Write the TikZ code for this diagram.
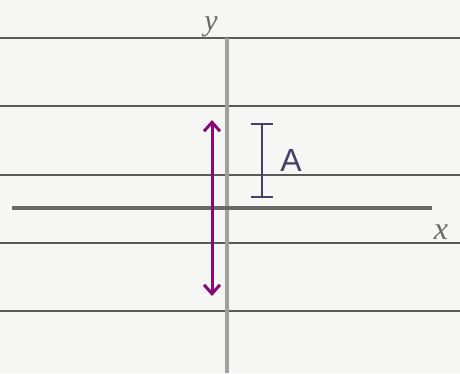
\documentclass[tikz,border=0pt]{standalone}
\usepackage{fontspec}
\setmainfont{Liberation Sans}
\newfontfamily\handfont{Liberation Serif}
\usetikzlibrary{arrows.meta}
\definecolor{paper}{RGB}{246,246,244}
\definecolor{rule}{RGB}{90,90,90}
\definecolor{axisH}{RGB}{105,105,105}
\definecolor{axisV}{RGB}{160,160,160}
\definecolor{purp}{RGB}{135,10,125}
\definecolor{ink}{RGB}{65,65,105}
\tikzset{
  ruleline/.style={rule, line width=1.3pt},
  axisline/.style={line width=4.5pt},
  vecarrow/.style={purp, line width=3pt, {Straight Barb[length=9pt,width=16pt]}-{Straight Barb[length=9pt,width=16pt]}},
  scalebar/.style={ink, line width=2.6pt},
  lbl/.style={inner sep=0pt}
}
\begin{document}
\begin{tikzpicture}[x=1pt,y=-1pt]
\fill[paper] (0,0) rectangle (460,373);
\useasboundingbox (0,0) rectangle (460,373);
% ruled lines
\foreach \yy in {38,106,175,243,311} \draw[ruleline] (0,\yy) -- (460,\yy);
% axes
\coordinate (xs) at (12,208);
\coordinate (xe) at (432,208);
\coordinate (ys) at (227,38);
\coordinate (ye) at (227,373);
\draw[axisline, axisV] (ys) -- (ye);
\draw[axisline, axisH] (xs) -- (xe);
\node[lbl, axisH, font=\handfont\itshape\fontsize{30}{32}\selectfont] (ylab) at (211,27) {y};
\node[lbl, axisH, font=\handfont\itshape\fontsize{32}{34}\selectfont] (xlab) at (441,232) {x};
% vector arrow
\coordinate (at) at (212,120);
\coordinate (ab) at (212,296);
\draw[vecarrow] (ab) -- (at);
% scale bar
\coordinate (st) at (262,124);
\coordinate (sb) at (262,197);
\draw[scalebar] (st) -- (sb);
\draw[scalebar] ([xshift=-11pt]st) -- ([xshift=11pt]st);
\draw[scalebar] ([xshift=-11pt]sb) -- ([xshift=11pt]sb);
\node[lbl, ink, font=\fontsize{32}{34}\selectfont] (A) at (291,160) {A};
\end{tikzpicture}
\end{document}
